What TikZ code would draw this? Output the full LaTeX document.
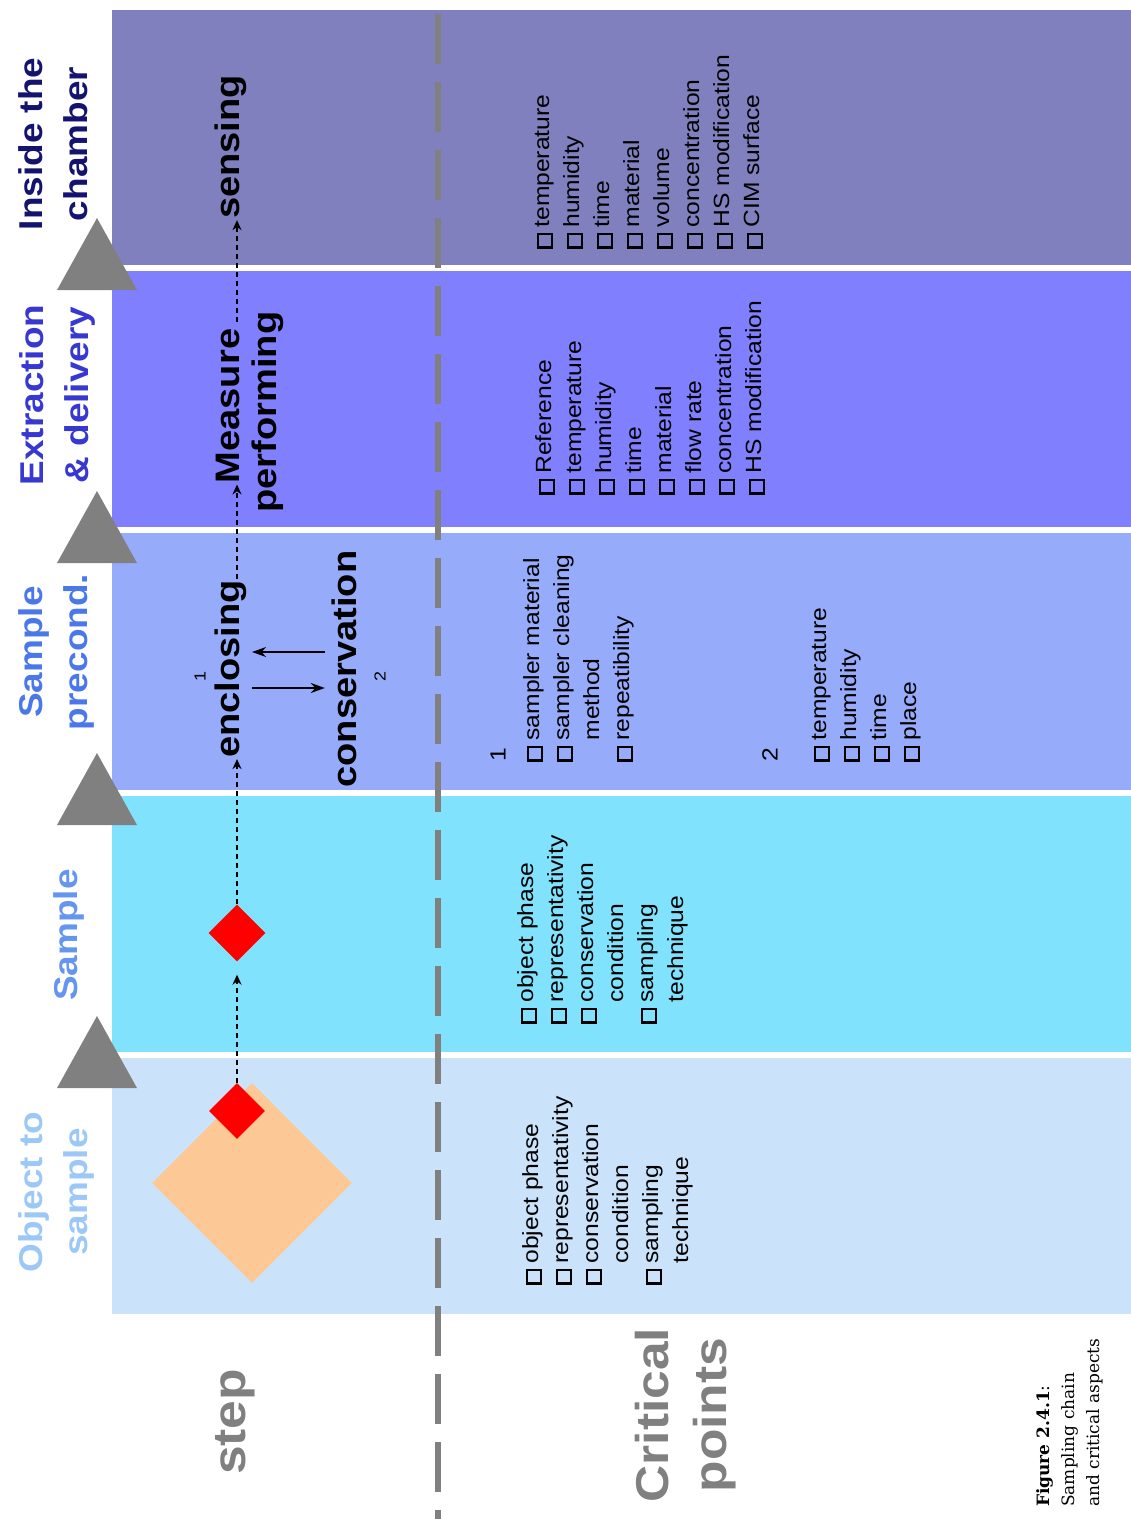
\documentclass[tikz,border=0pt]{standalone}
\usepackage{fontspec}
\setmainfont{Liberation Sans}[FakeStretch=1.12]
\newfontfamily\capfont{DejaVu Serif}
\usetikzlibrary{shapes.geometric,arrows.meta}
\definecolor{bandcham}{HTML}{8080BF}
\definecolor{bandextr}{HTML}{8080FF}
\definecolor{bandprec}{HTML}{97ABFB}
\definecolor{bandsamp}{HTML}{80E2FC}
\definecolor{bandobj}{HTML}{CAE3FB}
\definecolor{tcham}{HTML}{141470}
\definecolor{textr}{HTML}{3737D2}
\definecolor{tprec}{HTML}{4A78EA}
\definecolor{tsamp}{HTML}{6496F0}
\definecolor{tobj}{HTML}{9CC8F8}
\definecolor{peach}{HTML}{FCC896}
\definecolor{midgray}{HTML}{808080}
\newcommand\cbx{\raisebox{-1.5pt}{\setlength\fboxrule{2.4pt}\setlength\fboxsep{0pt}\fbox{\rule{0pt}{11.5pt}\rule{11.5pt}{0pt}}}}
\begin{document}
\begin{tikzpicture}[x=1pt,y=-1pt,
  steptitle/.style={rotate=90, anchor=north, align=center, inner sep=0pt, font=\fontsize{33}{45}\selectfont\bfseries},
  flowlbl/.style={rotate=90, anchor=mid, inner sep=1pt, font=\fontsize{34}{40}\selectfont\bfseries},
  clist/.style={rotate=90, anchor=north west, inner sep=0pt, font=\fontsize{22}{30}\selectfont},
  numsmall/.style={rotate=90, inner sep=0pt, font=\fontsize{16}{16}\selectfont},
  numlbl/.style={rotate=90, inner sep=0pt, font=\fontsize{22}{22}\selectfont},
  reddia/.style={diamond, aspect=1, fill=red, inner sep=0pt, minimum size=#1},
  flowarr/.style={line width=1.6pt, dash pattern=on 5pt off 4pt, -{Stealth[length=10pt,width=9pt]}},
  linkarr/.style={line width=1.8pt, -{Stealth[length=14pt,width=10pt]}},
  bigtitle/.style={rotate=90, anchor=north, align=center, inner sep=0pt, text=midgray, font=\fontsize{46}{58}\selectfont\bfseries},
  tri/.style={fill=midgray, draw=none}
]
\useasboundingbox (0,0) rectangle (1131,1519);
\fill[white] (0,0) rectangle (1131,1519);
% bands
\fill[bandcham] (112,10) rectangle (1131,265);
\fill[bandextr] (112,271) rectangle (1131,527);
\fill[bandprec] (112,533) rectangle (1131,790);
\fill[bandsamp] (112,796) rectangle (1131,1052);
\fill[bandobj]  (112,1058) rectangle (1131,1314);
% triangles
\fill[tri] (57,290) -- (137,290) -- (97,218) -- cycle;
\fill[tri] (57,563) -- (137,563) -- (97,491) -- cycle;
\fill[tri] (57,825) -- (137,825) -- (97,753) -- cycle;
\fill[tri] (57,1088) -- (137,1088) -- (97,1016) -- cycle;
% divider
\draw[midgray, line width=6pt, dash pattern=on 50pt off 18pt] (438,14) -- (438,1519);
% step titles
\node[steptitle, text=tcham] (tcham) at (18,144) {Inside the\\chamber};
\node[steptitle, text=textr] (textr) at (19,395) {Extraction\\\& delivery};
\node[steptitle, text=tprec] (tprec) at (18,652) {Sample\\precond.};
\node[steptitle, text=tsamp] (tsamp) at (53,935) {Sample};
\node[steptitle, text=tobj] (tobj) at (18,1192) {Object to\\sample};
% shapes
\node[diamond, aspect=1, fill=peach, inner sep=0pt, minimum size=200pt] (obj) at (252,1183) {};
\node[reddia=56pt] (red1) at (237,1111) {};
\node[reddia=57pt] (red2) at (237,933) {};
% flow labels
\node[flowlbl] (encl) at (237,669) {enclosing};
\node[flowlbl] (cons) at (354,669) {conservation};
\node[flowlbl] (meas) at (237,406) {Measure};
\node[flowlbl] (perf) at (274,412) {performing};
\node[flowlbl] (sens) at (237,147) {sensing};
\node[numsmall] (one) at (200,677) {1};
\node[numsmall] (two) at (380,677) {2};
% flow connectors
\draw[flowarr, shorten >=13pt] (red1.north) -- (red2.south);
\draw[flowarr] (red2.north) -- (encl.mid west);
\draw[flowarr] (encl.mid east) -- (meas.mid west);
\draw[flowarr, shorten <=6pt] (meas.mid east) -- (sens.mid west);
\draw[linkarr, shorten <=4pt, shorten >=6pt] ([yshift=-19pt]encl.south) -- ([yshift=-19pt]cons.north);
\draw[linkarr, shorten <=6pt, shorten >=4pt] ([yshift=17pt]cons.north) -- ([yshift=17pt]encl.south);
% critical point lists
\node[clist] (lcham) at (528,249) {\begin{tabular}{@{}l@{\hspace{5pt}}l@{}}
\cbx&temperature\\\cbx&humidity\\\cbx&time\\\cbx&material\\\cbx&volume\\\cbx&concentration\\\cbx&HS modification\\\cbx&CIM surface\end{tabular}};
\node[clist] (lextr) at (530,495) {\begin{tabular}{@{}l@{\hspace{5pt}}l@{}}
\cbx&Reference\\\cbx&temperature\\\cbx&humidity\\\cbx&time\\\cbx&material\\\cbx&flow rate\\\cbx&concentration\\\cbx&HS modification\end{tabular}};
\node[numlbl] (nA) at (498,755) {1};
\node[clist] (lprecA) at (518,762) {\begin{tabular}{@{}l@{\hspace{5pt}}l@{}}
\cbx&sampler material\\\cbx&sampler cleaning\\&method\\\cbx&repeatibility\end{tabular}};
\node[numlbl] (nB) at (770,755) {2};
\node[clist] (lprecB) at (805,762) {\begin{tabular}{@{}l@{\hspace{5pt}}l@{}}
\cbx&temperature\\\cbx&humidity\\\cbx&time\\\cbx&place\end{tabular}};
\node[clist] (lsamp) at (512,1024) {\begin{tabular}{@{}l@{\hspace{5pt}}l@{}}
\cbx&object phase\\\cbx&representativity\\\cbx&conservation\\&condition\\\cbx&sampling\\&technique\end{tabular}};
\node[clist] (lobj) at (517,1285) {\begin{tabular}{@{}l@{\hspace{5pt}}l@{}}
\cbx&object phase\\\cbx&representativity\\\cbx&conservation\\&condition\\\cbx&sampling\\&technique\end{tabular}};
% row titles
\node[bigtitle] (step) at (215,1422) {step};
\node[bigtitle] (crit) at (635,1415) {Critical\\points};
% caption
\node[rotate=90, anchor=north west, align=left, inner sep=0pt, font=\capfont\fontsize{17}{25}\selectfont] (cap) at (1036,1507) {\textbf{Figure 2.4.1}:\\Sampling chain\\and critical aspects};
\end{tikzpicture}
\end{document}
